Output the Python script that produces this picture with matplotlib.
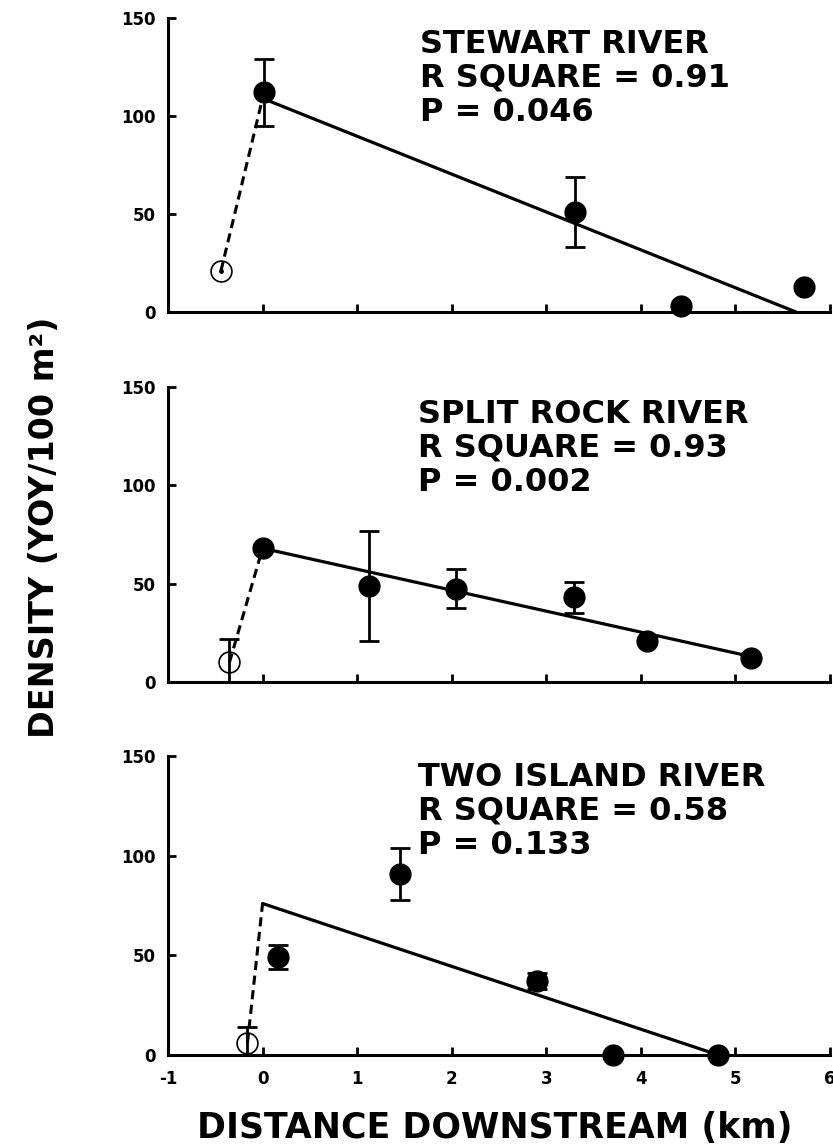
import numpy as np
import matplotlib
matplotlib.use("Agg")
import matplotlib.pyplot as plt

plt.rcParams['font.family'] = ['DejaVu Sans']
plt.rcParams['axes.unicode_minus'] = False

# ---------------- data ----------------
# Stewart River
stew_x = [0.02, 3.30, 4.42, 5.73]
stew_y = [112, 51, 3, 13]
stew_err = [17, 18, 0, 0]
stew_open_x = [-0.44]
stew_open_y = [21]
stew_open_err = [0]
stew_fit_x = [0.0, 5.64]
stew_fit_y = [109, 0]

# Split Rock River
split_x = [0.0, 1.13, 2.05, 3.29, 4.06, 5.16]
split_y = [68, 49, 47.5, 43, 21, 12]
split_err = [0, 28, 10, 8, 0, 0]
split_open_x = [-0.35]
split_open_y = [10]
split_open_err = [12]
split_fit_x = [0.0, 5.16]
split_fit_y = [68, 13]

# Two Island River
two_x = [0.16, 1.45, 2.90, 3.71, 4.82]
two_y = [49, 91, 37, 0, 0]
two_err = [6, 13, 4, 0, 0]
two_open_x = [-0.16]
two_open_y = [6]
two_open_err = [8]
two_fit_x = [0.0, 4.82]
two_fit_y = [76, 0]

names = ["STEWART RIVER", "SPLIT ROCK RIVER", "TWO ISLAND RIVER"]
rsq = ["0.91", "0.93", "0.58"]
pval = ["0.046", "0.002", "0.133"]

x_ticks = [-1, 0, 1, 2, 3, 4, 5, 6]
y_ticks = [0, 50, 100, 150]

panels = [
    (stew_x, stew_y, stew_err, stew_open_x, stew_open_y, stew_open_err, stew_fit_x, stew_fit_y),
    (split_x, split_y, split_err, split_open_x, split_open_y, split_open_err, split_fit_x, split_fit_y),
    (two_x, two_y, two_err, two_open_x, two_open_y, two_open_err, two_fit_x, two_fit_y),
]

# ---------------- layout ----------------
W, H = 833, 1146
fig = plt.figure(figsize=(W / 100, H / 100), dpi=100)

ax_rects = [
    (168 / W, (H - 312) / H, 662 / W, 294 / H),
    (168 / W, (H - 682) / H, 662 / W, 295 / H),
    (168 / W, (H - 1055) / H, 662 / W, 299 / H),
]
text_pos = [(0.381, 0.963), (0.378, 0.959), (0.378, 0.980)]

for i, (rect, data) in enumerate(zip(ax_rects, panels)):
    fx, fy, ferr, ox, oy, oerr, lx, ly = data
    ax = fig.add_axes(rect)
    ax.set_xlim(-1, 6)
    ax.set_ylim(0, 150)

    # regression line
    ax.plot(lx, ly, color='black', lw=2.3, solid_capstyle='round', zorder=3)
    # dashed connector from open (upstream) point to start of regression
    ax.plot([ox[0], lx[0]], [oy[0], ly[0]], color='black', lw=2.2,
            linestyle=(0, (3.0, 1.8)), zorder=3)

    # error bars
    fx_a = np.array(fx); fy_a = np.array(fy); fe_a = np.array(ferr)
    m = fe_a > 0
    if m.any():
        ax.errorbar(fx_a[m], fy_a[m], yerr=fe_a[m], fmt='none', ecolor='black',
                    elinewidth=2.0, capsize=7, capthick=2.0, zorder=4)
    if oerr[0] > 0:
        lower = min(oerr[0], oy[0])
        ax.errorbar(ox, oy, yerr=[[lower], [oerr[0]]], fmt='none', ecolor='black',
                    elinewidth=2.0, capsize=7, capthick=2.0, zorder=4)

    # filled points
    ax.plot(fx, fy, 'o', color='black', ms=15, zorder=5, clip_on=False)
    # open point
    ax.plot(ox, oy, 'o', mfc='none', mec='black', mew=1.2, ms=15, zorder=5, clip_on=False)
    if i == 0:
        ax.plot(ox, oy, 'o', color='black', ms=2.5, zorder=6)

    # axes styling
    for s in ['top', 'right']:
        ax.spines[s].set_visible(False)
    for s in ['left', 'bottom']:
        ax.spines[s].set_linewidth(2.2)
    ax.set_xticks(x_ticks)
    ax.set_yticks(y_ticks)
    ax.tick_params(axis='both', direction='in', length=6, width=2.0)
    ax.tick_params(axis='y', pad=9, labelsize=12)
    ax.tick_params(axis='x', pad=11, labelsize=12)
    for lab in ax.get_yticklabels():
        lab.set_fontweight('bold')
    if i < 2:
        ax.set_xticklabels([])
    else:
        for lab in ax.get_xticklabels():
            lab.set_fontweight('bold')

    ax.text(text_pos[i][0], text_pos[i][1],
            f"{names[i]}\nR SQUARE = {rsq[i]}\nP = {pval[i]}",
            transform=ax.transAxes, ha='left', va='top', fontsize=23,
            fontweight='bold', linespacing=1.12, zorder=7)

fig.text(45 / W, 1 - 527 / H, "DENSITY (YOY/100 m²)", rotation=90,
         ha='center', va='center', fontsize=24, fontweight='bold')
fig.text(495 / W, 1 - 1128 / H, "DISTANCE DOWNSTREAM (km)",
         ha='center', va='center', fontsize=25, fontweight='bold')

fig.savefig("out.png", dpi=100)
